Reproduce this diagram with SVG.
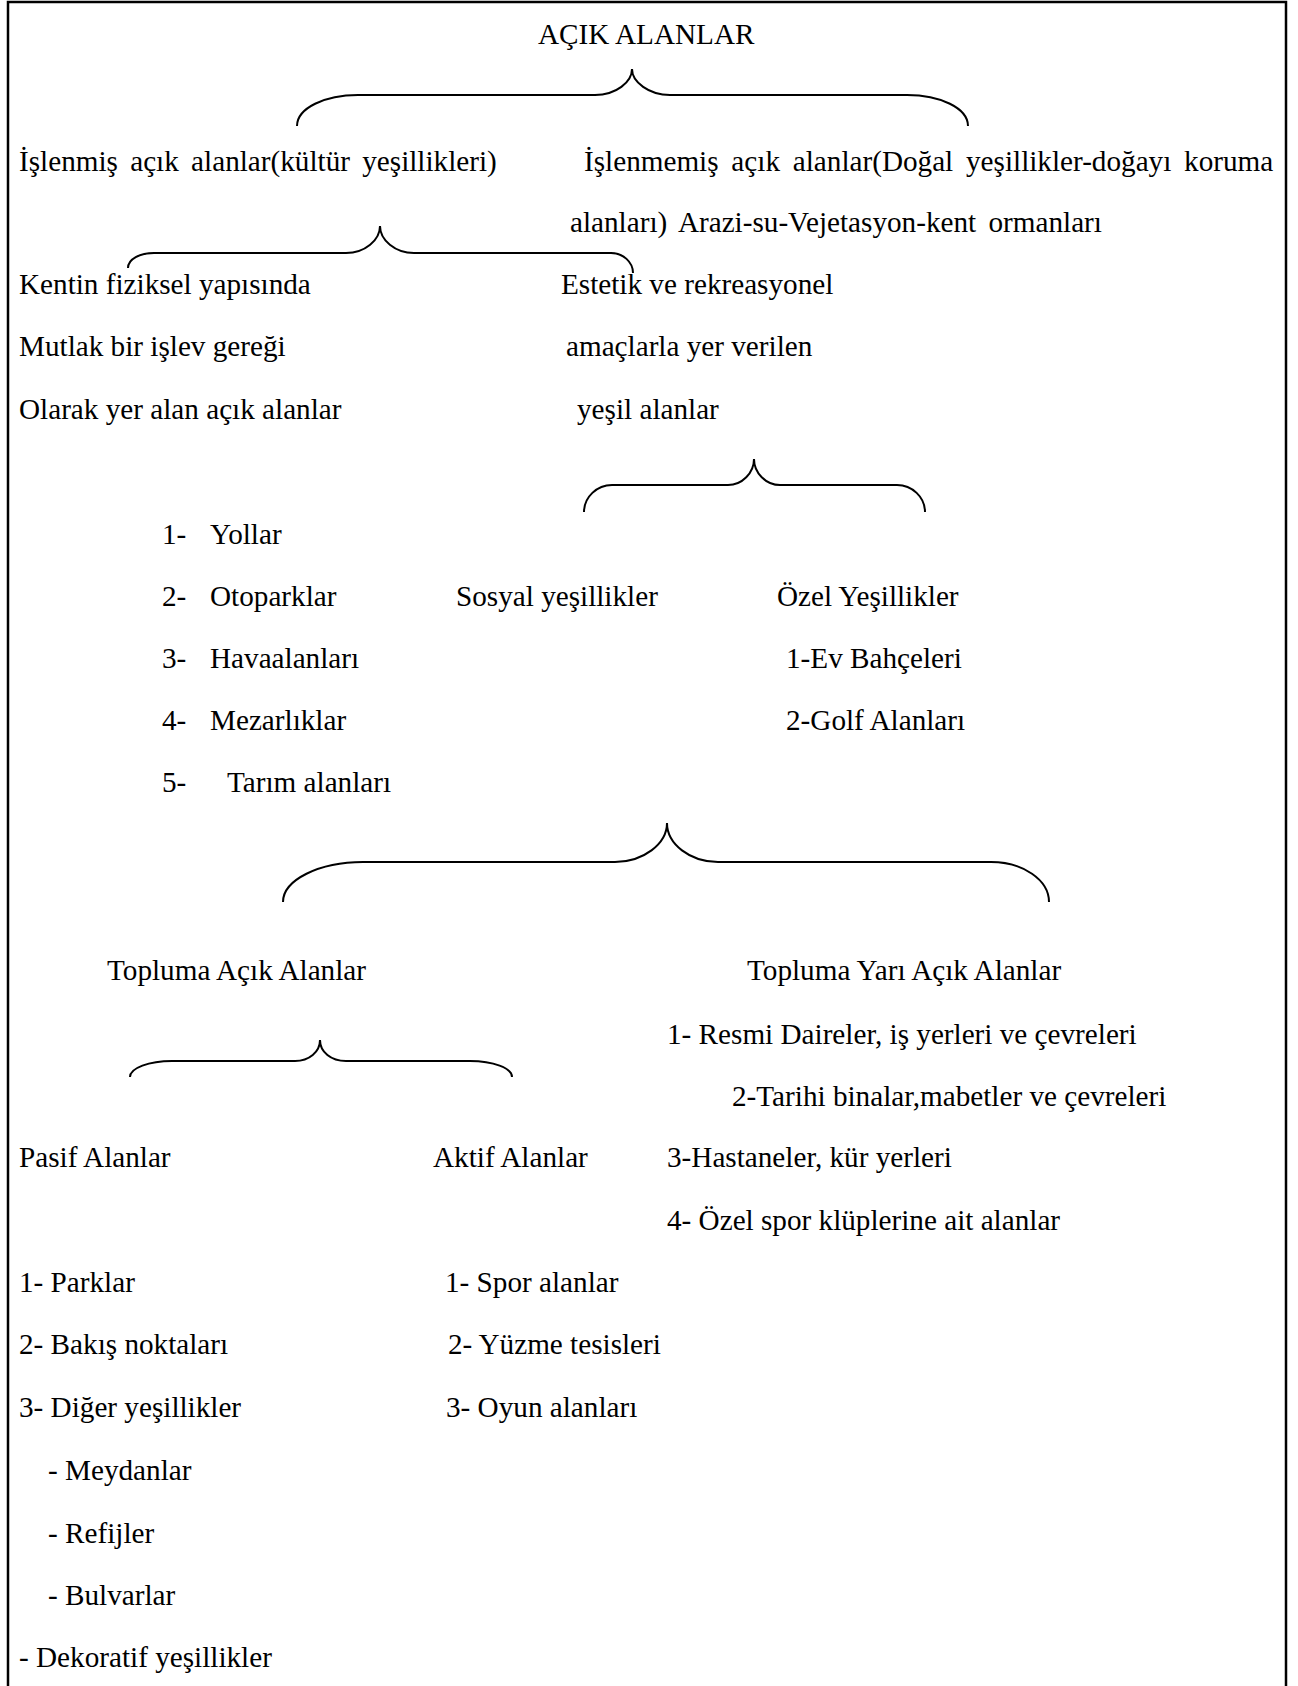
<svg xmlns="http://www.w3.org/2000/svg" width="1298" height="1686" viewBox="0 0 1298 1686">
<style>
  text { font-family: "Liberation Serif", "Times New Roman", serif; font-size: 29.2px; fill: #000; }
  .brace { fill: none; stroke: #000; stroke-width: 2; }
  .frame { fill: none; stroke: #000; stroke-width: 2.5; }
</style>
<rect x="0" y="0" width="1298" height="1686" fill="#fff"/>
<rect class="frame" x="8" y="2" width="1278" height="1700"/>

<g id="connectors">
  <path class="brace" d="M297 126 C297 108 325 95 358 95 L595 95 C616 95 632 82 632 69 C632 82 649 95 670 95 L907 95 C940 95 968 108 968 126"/>
  <path class="brace" d="M128 268 C128 259 140 253 154 253 L346 253 C365 253 380 240 380 226 C380 240 395 253 414 253 L611 253 C623 253 633 262 633 273"/>
  <path class="brace" d="M584 512 C584 497 597 485 612 485 L728 485 C742 485 754 473 754 459 C754 473 766 485 780 485 L897 485 C912 485 925 497 925 512"/>
  <path class="brace" d="M283 902 C283 880 319 862 363 862 L615 862 C643 862 667 844 667 823 C667 844 690 862 718 862 L991 862 C1023 862 1049 880 1049 902"/>
  <path class="brace" d="M130 1077 C130 1068 149 1061 172 1061 L295 1061 C309 1061 320 1052 320 1040 C320 1052 331 1061 346 1061 L470 1061 C493 1061 512 1068 512 1077"/>
</g>

<g id="n-root"><text x="538" y="44">AÇIK ALANLAR</text></g>
<g id="n-islenmis"><text x="19" y="171" word-spacing="5">İşlenmiş açık alanlar(kültür yeşillikleri)</text></g>
<g id="n-islenmemis">
  <text x="584" y="171" word-spacing="5.5">İşlenmemiş açık alanlar(Doğal yeşillikler-doğayı koruma</text>
  <text x="570" y="232" word-spacing="5">alanları) Arazi-su-Vejetasyon-kent ormanları</text>
</g>
<g id="n-kentin">
  <text x="19" y="294">Kentin fiziksel yapısında</text>
  <text x="19" y="356">Mutlak bir işlev gereği</text>
  <text x="19" y="419">Olarak yer alan açık alanlar</text>
</g>
<g id="n-estetik">
  <text x="561" y="294">Estetik ve rekreasyonel</text>
  <text x="566" y="356">amaçlarla yer verilen</text>
  <text x="577" y="419">yeşil alanlar</text>
</g>
<g id="n-list1">
  <text x="162" y="544">1-</text><text x="210" y="544">Yollar</text>
  <text x="162" y="606">2-</text><text x="210" y="606">Otoparklar</text>
  <text x="162" y="668">3-</text><text x="210" y="668">Havaalanları</text>
  <text x="162" y="730">4-</text><text x="210" y="730">Mezarlıklar</text>
  <text x="162" y="792">5-</text><text x="227" y="792">Tarım alanları</text>
</g>
<g id="n-sosyal"><text x="456" y="606">Sosyal yeşillikler</text></g>
<g id="n-ozel">
  <text x="777" y="606">Özel Yeşillikler</text>
  <text x="786" y="668">1-Ev Bahçeleri</text>
  <text x="786" y="730">2-Golf Alanları</text>
</g>
<g id="n-topluma-acik"><text x="107" y="980">Topluma Açık Alanlar</text></g>
<g id="n-topluma-yari">
  <text x="747" y="980">Topluma Yarı Açık Alanlar</text>
  <text x="667" y="1044">1- Resmi Daireler, iş yerleri ve çevreleri</text>
  <text x="732" y="1106">2-Tarihi binalar,mabetler ve çevreleri</text>
  <text x="667" y="1167">3-Hastaneler, kür yerleri</text>
  <text x="667" y="1230">4- Özel spor klüplerine ait alanlar</text>
</g>
<g id="n-pasif">
  <text x="19" y="1167">Pasif Alanlar</text>
  <text x="19" y="1292">1- Parklar</text>
  <text x="19" y="1354">2- Bakış noktaları</text>
  <text x="19" y="1417">3- Diğer yeşillikler</text>
  <text x="48" y="1480">- Meydanlar</text>
  <text x="48" y="1543">- Refijler</text>
  <text x="48" y="1605">- Bulvarlar</text>
  <text x="19" y="1667">- Dekoratif yeşillikler</text>
</g>
<g id="n-aktif">
  <text x="433" y="1167">Aktif Alanlar</text>
  <text x="445" y="1292">1- Spor alanlar</text>
  <text x="448" y="1354">2- Yüzme tesisleri</text>
  <text x="446" y="1417">3- Oyun alanları</text>
</g>
</svg>
